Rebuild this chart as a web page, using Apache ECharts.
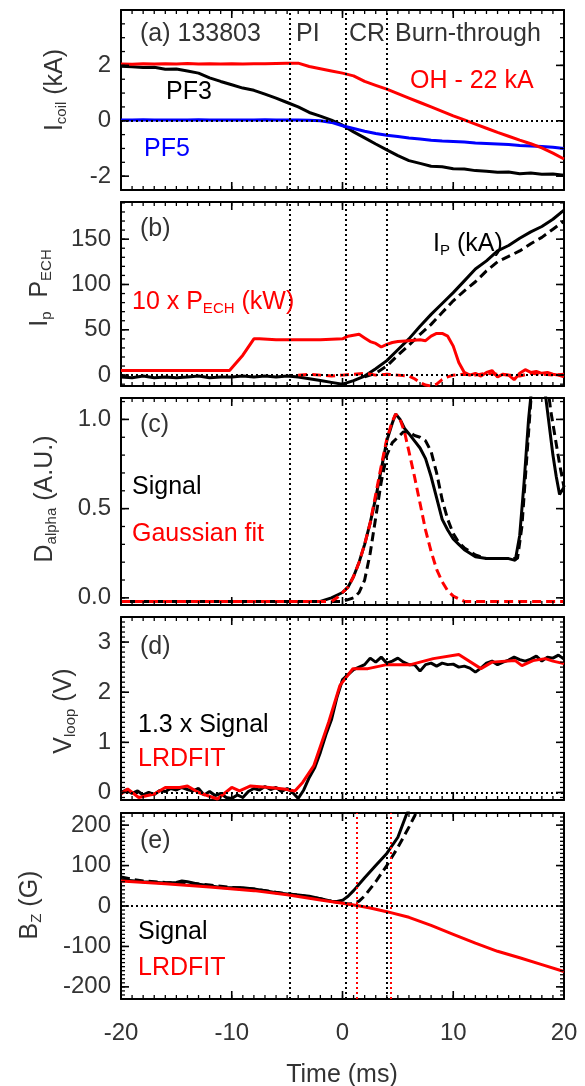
<!DOCTYPE html>
<html>
<head>
<meta charset="utf-8">
<script src="https://cdn.jsdelivr.net/npm/echarts@6/dist/echarts.min.js"></script>
<style>
html, body { margin: 0; padding: 0; background: #fff; }
#chart { width: 585px; height: 1086px; }
</style>
</head>
<body>
<div id="chart"></div>
<script>
// phase boundaries (ms)
const phaseTimes = [-4.8, 0.3, 4.0];
const fitTimes = [1.3, 4.4];

// (a) coil currents, kA
const tCoil = [-20,-19,-18,-17,-16,-15,-14,-13,-12,-11,-10,-9,-8,-7,-6,-5,-4,-3,-2,-1,0,1,2,3,4,5,6,7,8,9,10,11,12,13,14,15,16,17,18,19,20];
const ohCoil = [2.05,2.04,2.06,2.05,2.06,2.05,2.07,2.05,2.06,2.05,2.06,2.05,2.06,2.06,2.07,2.08,2.08,1.96,1.88,1.80,1.72,1.62,1.42,1.28,1.14,0.98,0.82,0.66,0.50,0.34,0.18,0.03,-0.12,-0.27,-0.42,-0.56,-0.70,-0.83,-0.98,-1.17,-1.38];
const pf3Coil = [1.97,1.95,1.92,1.93,1.86,1.87,1.80,1.72,1.55,1.42,1.30,1.18,1.10,0.96,0.82,0.66,0.50,0.30,0.17,0.02,-0.16,-0.40,-0.62,-0.84,-1.05,-1.26,-1.44,-1.54,-1.64,-1.66,-1.73,-1.74,-1.80,-1.82,-1.86,-1.85,-1.91,-1.89,-1.93,-1.92,-1.97];
const pf5Coil = [0.03,0.03,0.04,0.03,0.03,0.03,0.03,0.04,0.03,0.03,0.03,0.03,0.03,0.04,0.03,0.03,0.03,0.02,0.00,-0.06,-0.18,-0.28,-0.38,-0.46,-0.52,-0.57,-0.62,-0.66,-0.70,-0.73,-0.75,-0.77,-0.80,-0.82,-0.84,-0.86,-0.89,-0.91,-0.93,-0.96,-1.00];

// (b) plasma current (kA) and 10 x P_ECH (kW)
const tIp = tCoil;
const ipSolid = [-2,-3,-1,-3,-2,-3,-2,-1,-3,-2,-2,-1,-2,-1,-2,-1,-2,-4,-6,-8,-10,-6,-1,7,16,28,40,54,67,79,91,104,117,126,137,143,151,158,164,172,182];
const tIpD = [2,3,4,5,6,7,8,9,10,11,12,13,14,15,16,17,18,19,20];
const ipDashed = [-2,2,10,22,33,45,56,69,82,93,103,115,125,131,137,145,152,161,170];
const tEch = [-20,-18,-16,-14,-12,-10.2,-9,-8,-7.5,-6,-4,-2,0,0.5,1,1.5,2,2.5,3,3.5,4,4.5,5,6,7,7.5,8,8.5,9,9.5,10,10.5,11,11.5,12,12.5,13,13.5,14,14.5,15,15.5,16,16.5,17,17.5,18,18.5,19,19.5,20];
const echSolid = [5,5,5,5,5,5,22,40,40,39,39,39,40,43,44,45,41,37,35,31,34,36,37,38,39,38,43,46,46,43,32,14,3,0,2,-1,3,5,-2,1,0,-5,2,6,3,4,2,3,1,0,-2];
const tEchD = [-4,-3,-2,-1,0,1,2,3,4,5,6,6.5,7,7.5,8,8.5,9,9.5,10,11,12,13,14,15,16,17,18,19,20];
const echDashed = [0,1,0,-1,0,1,2,0,1,0,-1,-4,-8,-11,-12,-10,-5,-2,0,1,0,2,1,0,-1,2,1,0,1];

// (c) D-alpha, A.U.
const tDa = [-20,-15,-10,-5,-2,-1,0,0.5,1,1.5,2,2.5,3,3.5,4,4.5,4.8,5.2,5.6,6,6.5,7,7.5,8,8.5,9,9.5,10,10.5,11,12,13,14,15,15.6,16,16.4,16.8,17.2,17.6,18,18.3,18.6,19,19.3,19.6,20];
const daSignal = [-0.02,-0.02,-0.02,-0.02,-0.02,0.0,0.03,0.06,0.12,0.2,0.3,0.42,0.56,0.72,0.88,0.98,1.03,1.0,0.95,0.92,0.88,0.84,0.78,0.68,0.56,0.44,0.38,0.33,0.3,0.27,0.23,0.22,0.22,0.22,0.21,0.35,0.65,1.0,1.25,1.35,1.3,1.15,1.0,0.8,0.68,0.58,0.62];
const tDaD = [-20,-10,0,0.5,1,1.5,2,2.5,3,3.5,4,4.5,5,5.5,6,6.5,7,7.5,8,8.5,9,9.5,10,10.5,11,12,13,14,15,15.8,16.2,16.6,17,17.4,18,18.5,18.8,19.2,19.6,20];
const daSignalD = [-0.02,-0.02,-0.02,-0.01,0.0,0.03,0.1,0.25,0.45,0.65,0.8,0.87,0.9,0.93,0.93,0.91,0.9,0.88,0.82,0.7,0.55,0.44,0.36,0.31,0.28,0.24,0.22,0.22,0.22,0.22,0.4,0.75,1.1,1.3,1.3,1.2,1.05,0.9,0.75,0.62];
const tFit = [-20,-10,-5,-2,-1,-0.5,0,0.5,1,1.5,2,2.5,3,3.5,4,4.5,4.8,5.2,5.6,6,6.5,7,7.5,8,8.5,9,9.5,10,11,12,15,20];
const daFit = [-0.02,-0.02,-0.02,-0.02,-0.02,0.0,0.03,0.06,0.12,0.2,0.3,0.42,0.58,0.74,0.89,0.99,1.03,1.0,0.93,0.82,0.68,0.53,0.38,0.26,0.16,0.09,0.04,0.01,-0.02,-0.02,-0.02,-0.02];

// (d) loop voltage, V
const tVl = [-20,-19.5,-19,-18.5,-18,-17.5,-17,-16.5,-16,-15.5,-15,-14.5,-14,-13.5,-13,-12.5,-12,-11.5,-11,-10.5,-10,-9.5,-9,-8.5,-8,-7.5,-7,-6.5,-6,-5.5,-5,-4.5,-4,-3.5,-3,-2.5,-2,-1.5,-1,-0.5,0,0.5,1,1.5,2,2.5,3,3.5,4,4.5,5,5.5,6,6.5,7,7.5,8,8.5,9,9.5,10,10.5,11,11.5,12,12.5,13,13.5,14,14.5,15,15.5,16,16.5,17,17.5,18,18.5,19,19.5,20];
const vlSignal = [0.00,0.05,-0.02,0.03,-0.05,0.00,-0.04,0.04,0.02,0.08,0.05,0.10,0.06,0.03,0.08,-0.05,0.02,-0.06,-0.02,-0.10,-0.12,-0.05,-0.10,0.02,0.08,0.05,0.12,0.06,0.10,0.02,0.08,0.00,-0.12,0.05,0.30,0.50,0.80,1.15,1.45,1.90,2.25,2.35,2.45,2.50,2.55,2.68,2.60,2.70,2.58,2.62,2.68,2.60,2.55,2.55,2.42,2.55,2.58,2.52,2.58,2.55,2.56,2.50,2.52,2.48,2.40,2.48,2.58,2.62,2.55,2.60,2.64,2.70,2.65,2.62,2.66,2.72,2.62,2.70,2.68,2.74,2.66];
const tLr = [-20,-19.4,-18.4,-17,-16,-14.7,-14,-13,-11.3,-10,-9.3,-8.3,-6.6,-5.3,-4.3,-3.6,-2.6,-1.25,-0.24,0.94,2.3,4.0,6.15,8.2,10.5,12.5,13.5,15.6,16.2,17.2,18.3,19.0,20];
const vlFit = [-0.03,0.07,-0.1,-0.03,0.1,0.1,0.13,0.0,-0.13,0.1,0.03,0.13,0.1,0.07,0.03,0.2,0.53,1.4,2.13,2.47,2.47,2.55,2.55,2.67,2.75,2.47,2.6,2.63,2.53,2.63,2.67,2.62,2.57];

// (e) vertical field, G
const tBz = [-20,-18,-16,-15,-14.5,-14,-13,-12,-11,-10,-9,-8,-7,-6,-5,-4,-3,-2,-1,-0.5,0,0.5,1,2,3,4,5,5.8,6.5];
const bzSignal = [65,60,57,58,62,60,54,50,46,45,45,42,38,33,30,27,24,18,12,11,14,24,38,70,100,130,170,228,260];
const tBzD = [-20,-19,-18,-16,-14,-12,-10,-8,-6,-4,-2,-1,0,0.5,1,1.5,2,3,4,5,6,6.5,7];
const bzSignalD = [72,66,62,58,57,52,46,42,34,27,18,12,8,5,6,12,25,60,100,145,195,222,250];
const tBzFit = [-20,-16,-12,-8,-5,-2,0,1.3,2.5,4,6,8,10,12,14,16,18,20];
const bzFit = [62,55,47,38,28,15,7,1,-5,-14,-28,-48,-70,-92,-112,-128,-145,-162];

// tick labels
const xTicks = [-20, -10, 0, 10, 20];
const yTicksA = [-2, 0, 2];
const yTicksB = [0, 50, 100, 150];
const yTicksC = [0, 0.5, 1.0];
const yTicksD = [0, 1, 2, 3];
const yTicksE = [-200, -100, 0, 100, 200];

const FONT = 'Liberation Sans';
const RED = '#ff0000', BLUE = '#0000ff', BLACK = '#000000', TXT = '#333333';

const panels = [
    {top: 10,  height: 180, min: -2.5, max: 4,    ticks: yTicksA, minor: 0.5,  digits: 0},
    {top: 202, height: 184, min: -12,  max: 191,  ticks: yTicksB, minor: 10,   digits: 0},
    {top: 398, height: 207, min: -0.04,max: 1.12, ticks: yTicksC, minor: 0.1,  digits: 1},
    {top: 617, height: 183, min: -0.15,max: 3.5,  ticks: yTicksD, minor: 0.1,  digits: 0},
    {top: 813, height: 186, min: -230, max: 230,  ticks: yTicksE, minor: 10,   digits: 0}
];

function steps(a, b, d) {
    const out = [];
    for (let v = Math.ceil(a / d - 1e-9) * d; v <= b + 1e-9; v += d) out.push(+v.toFixed(4));
    return out;
}
const pts = (t, v) => t.map((x, i) => [x, v[i]]);
const xMinors = steps(-20, 20, 1);

const grid = [], xAxis = [], yAxis = [];
const labelStyle = {fontSize: 24, color: TXT, fontFamily: FONT};

panels.forEach((p, i) => {
    grid.push({left: 121, right: 21, top: p.top, height: p.height});
    ['bottom', 'top'].forEach(pos => {
        xAxis.push({
            gridIndex: i, type: 'value', position: pos, min: -20, max: 20,
            axisLine: {show: true, onZero: false, lineStyle: {color: BLACK, width: 2}},
            axisTick: {show: false},
            axisLabel: Object.assign({show: pos === 'bottom' && i === 4, margin: 22,
                customValues: xTicks}, labelStyle),
            splitLine: {show: false}
        });
    });
    ['left', 'right'].forEach(pos => {
        yAxis.push({
            gridIndex: i, type: 'value', position: pos, min: p.min, max: p.max,
            axisLine: {show: true, onZero: false, lineStyle: {color: BLACK, width: 2}},
            axisTick: {show: false},
            axisLabel: Object.assign({show: pos === 'left', margin: 10, customValues: p.ticks,
                formatter: v => v.toFixed(p.digits)}, labelStyle),
            splitLine: {show: false}
        });
    });
});

function line(panel, data, color, dash, marks) {
    const s = {
        type: 'line', xAxisIndex: panel * 2, yAxisIndex: panel * 2,
        data: data, showSymbol: false, symbol: 'none', silent: true,
        lineStyle: {color: color, width: 3, type: dash ? [9, 5] : 'solid'}
    };
    if (marks) {
        s.markLine = {
            silent: true, symbol: 'none', label: {show: false}, animation: false,
            lineStyle: {color: marks.color || BLACK, width: 2, type: [2, 3]},
            data: marks.data
        };
    }
    return s;
}
const vLines = phaseTimes.map(t => ({xAxis: t}));
const zeroLine = [{yAxis: 0}];

const series = [
    line(0, pts(tCoil, pf3Coil), BLACK, false, {data: vLines.concat(zeroLine)}),
    line(0, pts(tCoil, pf5Coil), BLUE),
    line(0, pts(tCoil, ohCoil), RED),

    line(1, pts(tIp, ipSolid), BLACK, false, {data: vLines.concat(zeroLine)}),
    line(1, pts(tIpD, ipDashed), BLACK, true),
    line(1, pts(tEchD, echDashed), RED, true),
    line(1, pts(tEch, echSolid), RED),

    line(2, pts(tDa, daSignal), BLACK, false, {data: vLines}),
    line(2, pts(tDaD, daSignalD), BLACK, true),
    line(2, pts(tFit, daFit), RED, true),

    line(3, pts(tVl, vlSignal), BLACK, false, {data: vLines.concat(zeroLine)}),
    line(3, pts(tLr, vlFit), RED),

    line(4, pts(tBz, bzSignal), BLACK, false, {data: vLines.concat(zeroLine)}),
    line(4, pts(tBzD, bzSignalD), BLACK, true),
    line(4, pts(tBzFit, bzFit), RED, false, {color: RED, data: fitTimes.map(t => ({xAxis: t}))})
];

function sub(color) {
    return {s: {fontSize: 15, fontFamily: FONT, fill: color, padding: [14, 0, 0, 0]}};
}
function note(x, y, text, color) {
    return {type: 'text', x: x, y: y, silent: true, z: 100,
        style: {text: text, fill: color, fontSize: 25, fontFamily: FONT,
            align: 'left', verticalAlign: 'middle', rich: sub(color)}};
}
function yTitle(x, y, text) {
    return {type: 'text', x: x, y: y, rotation: Math.PI / 2, silent: true, z: 100,
        style: {text: text, fill: TXT, fontSize: 25, fontFamily: FONT,
            align: 'center', verticalAlign: 'middle', rich: sub(TXT)}};
}

const graphic = [
    yTitle(55, 90, 'I{s|coil} (kA)'),
    yTitle(40, 288, 'I{s|p}  P{s|ECH}'),
    yTitle(45, 499, 'D{s|alpha} (A.U.)'),
    yTitle(64, 711, 'V{s|loop} (V)'),
    yTitle(30, 905, 'B{s|Z} (G)'),

    note(140, 34, '(a) 133803', TXT),
    note(296, 34, 'PI', TXT),
    note(349, 34, 'CR', TXT),
    note(395, 34, 'Burn-through', TXT),
    note(166, 92, 'PF3', BLACK),
    note(410, 81, 'OH - 22 kA', RED),
    note(144, 149, 'PF5', BLUE),

    note(140, 229, '(b)', TXT),
    note(433, 244, 'I{s|P} (kA)', BLACK),
    note(132, 302, '10 x P{s|ECH} (kW)', RED),

    note(140, 425, '(c)', TXT),
    note(132, 487, 'Signal', BLACK),
    note(132, 534, 'Gaussian fit', RED),

    note(140, 647, '(d)', TXT),
    note(138, 725, '1.3 x Signal', BLACK),
    note(138, 759, 'LRDFIT', RED),

    note(140, 841, '(e)', TXT),
    note(138, 932, 'Signal', BLACK),
    note(138, 968, 'LRDFIT', RED),

    {type: 'text', x: 342, y: 1075, silent: true,
        style: {text: 'Time (ms)', fill: TXT, fontSize: 25, fontFamily: FONT,
            align: 'center', verticalAlign: 'middle'}}
];

const chart = echarts.init(document.getElementById('chart'), null, {renderer: 'canvas'});
chart.setOption({
    animation: false,
    backgroundColor: '#ffffff',
    grid: grid,
    xAxis: xAxis,
    yAxis: yAxis,
    series: series,
    graphic: graphic
});

// inward tick marks on all four sides, placed through each panel's axes
const tickMarks = [];
panels.forEach((p, i) => {
    const finder = {xAxisIndex: i * 2, yAxisIndex: i * 2};
    const px = (x, y) => chart.convertToPixel(finder, [x, y]);
    const lb = px(-20, p.min), rt = px(20, p.max);
    const left = lb[0], bottom = lb[1], right = rt[0], top = rt[1];
    const seg = (x1, y1, x2, y2, w) => tickMarks.push({type: 'line', silent: true, z: 50,
        shape: {x1: x1, y1: y1, x2: x2, y2: y2}, style: {stroke: BLACK, lineWidth: w}});
    xMinors.forEach(v => {
        const x = px(v, p.min)[0];
        seg(x, bottom, x, bottom - 4, 1.3); seg(x, top, x, top + 4, 1.3);
    });
    xTicks.forEach(v => {
        const x = px(v, p.min)[0];
        seg(x, bottom, x, bottom - 8, 1.6); seg(x, top, x, top + 8, 1.6);
    });
    steps(p.min, p.max, p.minor).forEach(v => {
        const y = px(-20, v)[1];
        seg(left, y, left + 4, y, 1.3); seg(right, y, right - 4, y, 1.3);
    });
    p.ticks.forEach(v => {
        const y = px(-20, v)[1];
        seg(left, y, left + 8, y, 1.6); seg(right, y, right - 8, y, 1.6);
    });
});
chart.setOption({graphic: graphic.concat(tickMarks)});
</script>
</body>
</html>
